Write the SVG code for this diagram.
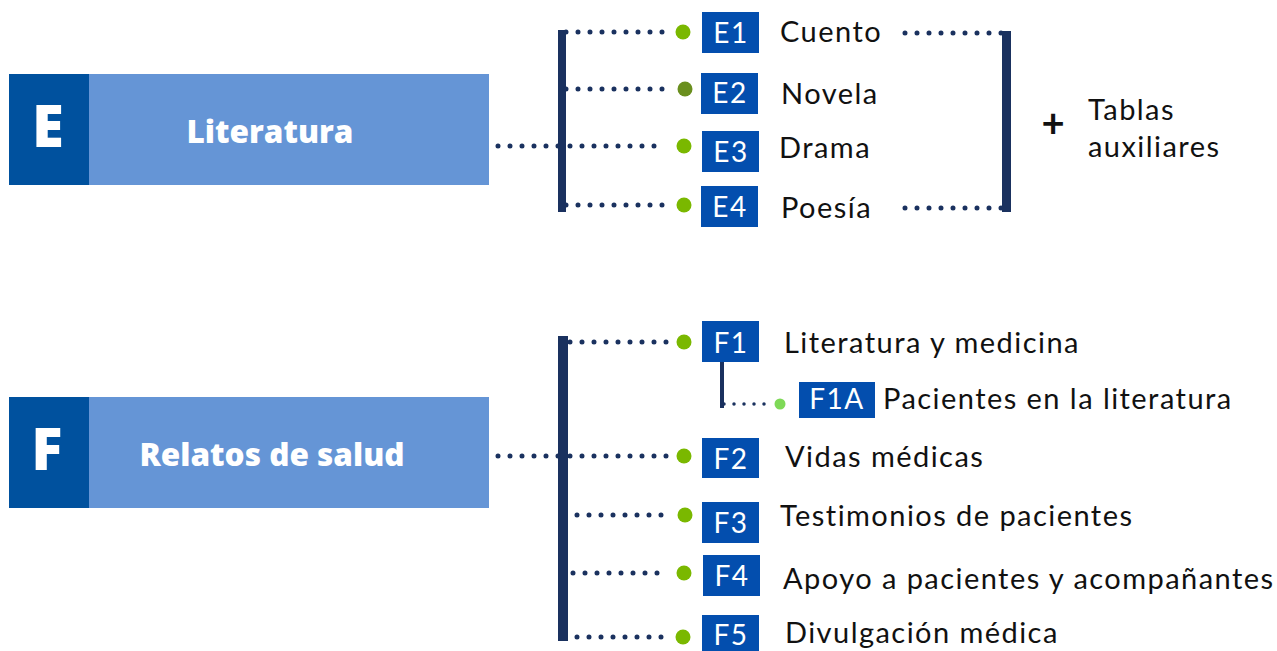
<svg xmlns="http://www.w3.org/2000/svg" width="1277" height="651" viewBox="0 0 1277 651">
<style>
.dark{fill:#00519e}
.light{fill:#6595d6}
.letter{font-family:"Open Sans","Liberation Sans",sans-serif;font-weight:800;fill:#fff;text-anchor:middle}
.title{font-family:"Open Sans","Liberation Sans",sans-serif;font-weight:800;fill:#fff;text-anchor:middle;font-size:31.5px}
.code{fill:#034eae}
.codet{font-family:Lato,"Liberation Sans",sans-serif;font-size:28px;fill:#fff;text-anchor:middle;letter-spacing:1.5px}
.lbl{font-family:Lato,"Liberation Sans",sans-serif;font-size:29px;fill:#111;letter-spacing:1.45px}
.bar{fill:#1a315f}
.dots{stroke:#1a315f;stroke-width:5;stroke-linecap:round;stroke-dasharray:0 12;fill:none}
.sdots{stroke:#1a315f;stroke-width:3.5;stroke-linecap:round;stroke-dasharray:0 10;fill:none}
.g{fill:#7ab800}
</style>
<g id="nodeE">
<rect x="9" y="74" width="80" height="111" class="dark"/>
<rect x="89" y="74" width="400" height="111" class="light"/>
<text x="48" y="147" class="letter" font-size="58">E</text>
<text x="270" y="143" class="title">Literatura</text>
</g>
<g id="nodeF">
<rect x="9" y="397" width="80" height="111" class="dark"/>
<rect x="89" y="397" width="400" height="111" class="light"/>
<text x="47" y="470" class="letter" font-size="58">F</text>
<text x="272" y="466" class="title">Relatos de salud</text>
</g>
<g id="connectors">
<rect x="558" y="30" width="8" height="182" class="bar"/>
<path class="dots" d="M566 32H664M566 89H664M498 146H664M566 205H664"/>
<rect x="1002" y="31" width="9" height="181" class="bar"/>
<path class="dots" d="M905 33H1002M905 208H1002"/>
<rect x="558" y="336" width="10" height="305" class="bar"/>
<path class="dots" d="M570 342H668M498 456H668M577 515H665M573 573H662M577 637H665"/>
<rect x="720" y="360" width="4" height="48" class="bar"/>
<path class="sdots" d="M724 404H766"/>
</g>
<g id="E1"><circle cx="683" cy="32" r="7.5" class="g"/><rect x="702" y="12" width="57" height="41" class="code"/><text x="731" y="43" class="codet">E1</text><text x="780" y="42" class="lbl">Cuento</text></g>
<g id="E2"><circle cx="685" cy="89" r="7.5" fill="#6a8f1e"/><rect x="701" y="73" width="57" height="41" class="code"/><text x="730" y="103" class="codet">E2</text><text x="781" y="104" class="lbl">Novela</text></g>
<g id="E3"><circle cx="684" cy="146" r="7.5" class="g"/><rect x="702" y="131" width="57" height="41" class="code"/><text x="731" y="162" class="codet">E3</text><text x="779" y="158" class="lbl">Drama</text></g>
<g id="E4"><circle cx="684" cy="205" r="7.5" class="g"/><rect x="701" y="186" width="57" height="41" class="code"/><text x="730" y="217" class="codet">E4</text><text x="781" y="218" class="lbl">Poesía</text></g>
<g id="aux"><text x="1053" y="137" font-family="Lato,'Liberation Sans',sans-serif" font-size="40" font-weight="700" fill="#111" text-anchor="middle">+</text><text x="1088" y="120" class="lbl">Tablas</text><text x="1088" y="157" class="lbl">auxiliares</text></g>
<g id="F1"><circle cx="684" cy="342" r="7.5" class="g"/><rect x="702" y="321" width="57" height="41" class="code"/><text x="731" y="353" class="codet">F1</text><text x="784" y="353" class="lbl">Literatura y medicina</text></g>
<g id="F1A"><circle cx="780" cy="404" r="5.5" fill="#7ed957"/><rect x="799" y="382" width="76" height="36" class="code"/><text x="837" y="409" class="codet">F1A</text><text x="883" y="409" class="lbl">Pacientes en la literatura</text></g>
<g id="F2"><circle cx="684" cy="456" r="7.5" class="g"/><rect x="702" y="438" width="57" height="40" class="code"/><text x="731" y="469" class="codet">F2</text><text x="785" y="467" class="lbl">Vidas médicas</text></g>
<g id="F3"><circle cx="685" cy="515" r="7.5" class="g"/><rect x="702" y="502" width="57" height="41" class="code"/><text x="731" y="533" class="codet">F3</text><text x="780" y="526" class="lbl">Testimonios de pacientes</text></g>
<g id="F4"><circle cx="684" cy="573" r="7.5" class="g"/><rect x="703" y="555" width="57" height="41" class="code"/><text x="732" y="586" class="codet">F4</text><text x="783" y="589" class="lbl">Apoyo a pacientes y acompañantes</text></g>
<g id="F5"><circle cx="683" cy="637" r="7.5" class="g"/><rect x="702" y="615" width="57" height="36" class="code"/><text x="731" y="645" class="codet">F5</text><text x="785" y="643" class="lbl">Divulgación médica</text></g>
</svg>
